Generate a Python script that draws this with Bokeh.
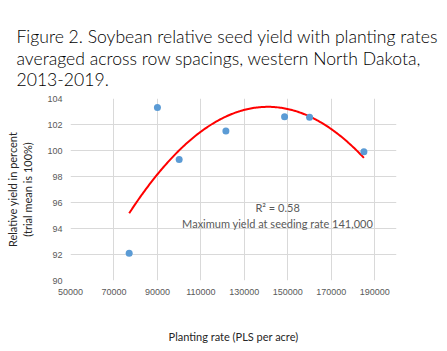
import numpy as np
from bokeh.plotting import figure
from bokeh.models import Range1d, FixedTicker, Label, Title
from bokeh.embed import file_html
from bokeh.resources import INLINE

# ---- data ----
planting_rate = [77000, 90000, 100000, 121500, 148500, 160000, 185000]
relative_yield = [92.1, 103.3, 99.3, 101.5, 102.6, 102.55, 99.9]
x_ticks = [50000, 70000, 90000, 110000, 130000, 150000, 170000, 190000]
y_ticks = [90, 92, 94, 96, 98, 100, 102, 104]
title_text = ("Figure 2. Soybean relative seed yield with planting rates\n"
              "averaged across row spacings, western North Dakota,\n"
              "2013-2019.")
annot_lines = "R\u00b2 = 0.58\nMaximum yield at seeding rate 141,000"
annot_x, annot_y = 145300, 95.0

# quadratic trendline fitted to the points
coef = np.polyfit(planting_rate, relative_yield, 2)
xs = np.linspace(min(planting_rate), max(planting_rate), 200)
ys = np.polyval(coef, xs)

FONT = "Lato"

p = figure(width=447, height=351, output_backend="svg", toolbar_location=None,
           x_range=Range1d(50000, 200000), y_range=Range1d(90, 104),
           min_border_left=70, min_border_right=51, min_border_top=98,
           min_border_bottom=71, outline_line_color=None,
           background_fill_color="white", border_fill_color="white")

p.title = Title(text=title_text, align="left", offset=-54,
                text_font="Lato Light, Lato", text_font_size="17.6px",
                text_font_style="normal",
                text_color="#000000", text_line_height=1.02, standoff=17)

for ax in (p.xaxis[0], p.yaxis[0]):
    ax.axis_line_color = None
    ax.major_tick_line_color = None
    ax.minor_tick_line_color = None
    ax.major_tick_out = 0
    ax.major_tick_in = 0
    ax.major_label_text_font = "Liberation Sans"
    ax.major_label_text_font_size = "9px"
    ax.major_label_text_color = "#595959"
    ax.axis_label_text_font = FONT
    ax.axis_label_text_font_size = "11px"
    ax.axis_label_text_font_style = "normal"
    ax.axis_label_text_color = "#262626"
    ax.major_label_standoff = 8

p.xaxis.ticker = FixedTicker(ticks=x_ticks)
p.yaxis.ticker = FixedTicker(ticks=y_ticks)
p.xaxis.formatter.use_scientific = False
p.xaxis.axis_label = "Planting rate (PLS per acre)"
p.xaxis.axis_label_standoff = 32
p.yaxis.axis_label = "Relative yield in percent\n(trial mean is 100%)"
p.yaxis.axis_label_standoff = 10

p.xgrid.ticker = FixedTicker(ticks=x_ticks)
p.ygrid.ticker = FixedTicker(ticks=y_ticks)
p.xgrid.grid_line_color = "#d9d9d9"
p.ygrid.grid_line_color = "#d9d9d9"

p.line(xs, ys, line_color="#FF0000", line_width=2)
p.scatter(planting_rate, relative_yield, size=7, fill_color="#5B9BD5",
          line_color=None)

p.add_layout(Label(x=annot_x, y=annot_y, text=annot_lines, text_align="center",
                   text_baseline="middle", text_font=FONT, text_font_size="11px",
                   text_color="#595959", text_line_height=1.25))

open("out.html", "w").write(file_html(p, INLINE))
